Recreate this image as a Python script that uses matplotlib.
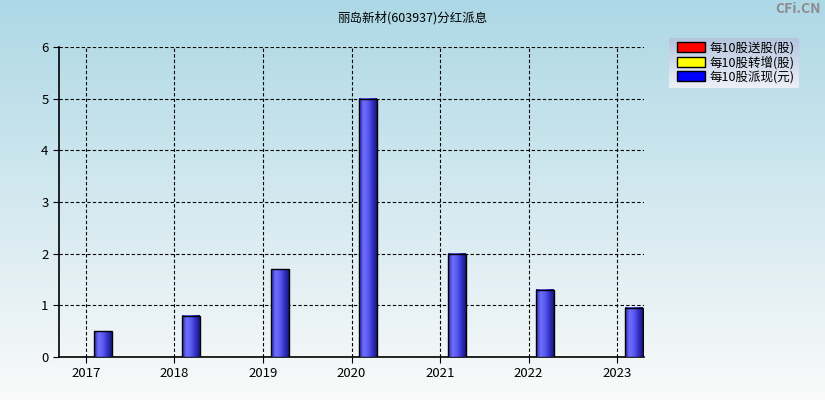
import numpy as np
import matplotlib.pyplot as plt
from matplotlib.patches import Patch

plt.rcParams['font.family'] = ['Noto Sans CJK SC', 'DejaVu Sans']

years = [2017, 2018, 2019, 2020, 2021, 2022, 2023]
song = [0, 0, 0, 0, 0, 0, 0]       # 每10股送股(股)
zhuan = [0, 0, 0, 0, 0, 0, 0]      # 每10股转增(股)
pai = [0.5, 0.8, 1.7, 5.0, 2.0, 1.3, 0.95]  # 每10股派现(元)
legend_labels = ['每10股送股(股)', '每10股转增(股)', '每10股派现(元)']

fig = plt.figure(figsize=(8.25, 4), dpi=100)

# background gradient
bg = fig.add_axes([0, 0, 1, 1], zorder=-10)
top = np.array([173, 216, 230]) / 255
bot = np.array([250, 250, 250]) / 255
t = np.linspace(0, 1, 200)[:, None]
grad = top * (1 - t) + bot * t
bg.imshow(grad[:, None, :], aspect='auto', extent=[0, 1, 0, 1])
bg.axis('off')

# legend box gradient
lb = fig.add_axes([669/825, 1 - 88/400, 130/825, 50/400], zorder=-5)
ltop = np.array([180, 196, 222]) / 255
lbot = np.array([238, 240, 248]) / 255
lgrad = ltop * (1 - t) + lbot * t
lb.imshow(lgrad[:, None, :], aspect='auto', extent=[0, 1, 0, 1])
lb.axis('off')

ax = fig.add_axes([59/825, 43/400, 585/825, 310/400])
ax.patch.set_alpha(0)

bw = 0.2
off = 0.19
cmap_cols = np.array([[40, 40, 170], [110, 110, 255], [90, 90, 240], [50, 50, 200], [25, 25, 120]]) / 255
xs = np.linspace(0, 1, 40)
bar_grad = np.array([np.interp(xs, np.linspace(0, 1, 5), cmap_cols[:, k]) for k in range(3)]).T
for y, v in zip(years, pai):
    x0 = y + off - bw / 2
    ax.imshow(bar_grad[None, :, :], aspect='auto', extent=[x0, x0 + bw, 0, v], zorder=3)
    ax.bar(y + off, v, width=bw, facecolor='none', edgecolor='black', linewidth=1, zorder=4)

ax.set_xlim(2016.695, 2023.305)
ax.set_ylim(0, 6)
ax.set_xticks(years)
ax.set_yticks(range(7))
ax.grid(True, color='black', linestyle=(0, (3, 2)), linewidth=0.8)
ax.set_axisbelow(True)
for s in ['top', 'right']:
    ax.spines[s].set_visible(False)
ax.spines['left'].set_linewidth(1.2)
ax.spines['bottom'].set_linewidth(1.2)
ax.tick_params(labelsize=9.5, length=4, colors='black')

fig.text(0.5, 0.955, '丽岛新材(603937)分红派息', ha='center', va='center', fontsize=9)
fig.text(0.995, 0.978, 'CFi.CN', ha='right', va='center', fontsize=10, color='#8c8c8c', fontweight='bold')

handles = [Patch(facecolor=c, edgecolor='black') for c in ['red', 'yellow', 'blue']]
leg = fig.legend(handles, legend_labels, loc='upper left', bbox_to_anchor=(674/825, 1 - 39/400),
                 fontsize=9, frameon=False, handlelength=2.3, handleheight=0.85,
                 borderpad=0.2, labelspacing=0.1, handletextpad=0.3, borderaxespad=0)

fig.savefig('out.png', dpi=100)
